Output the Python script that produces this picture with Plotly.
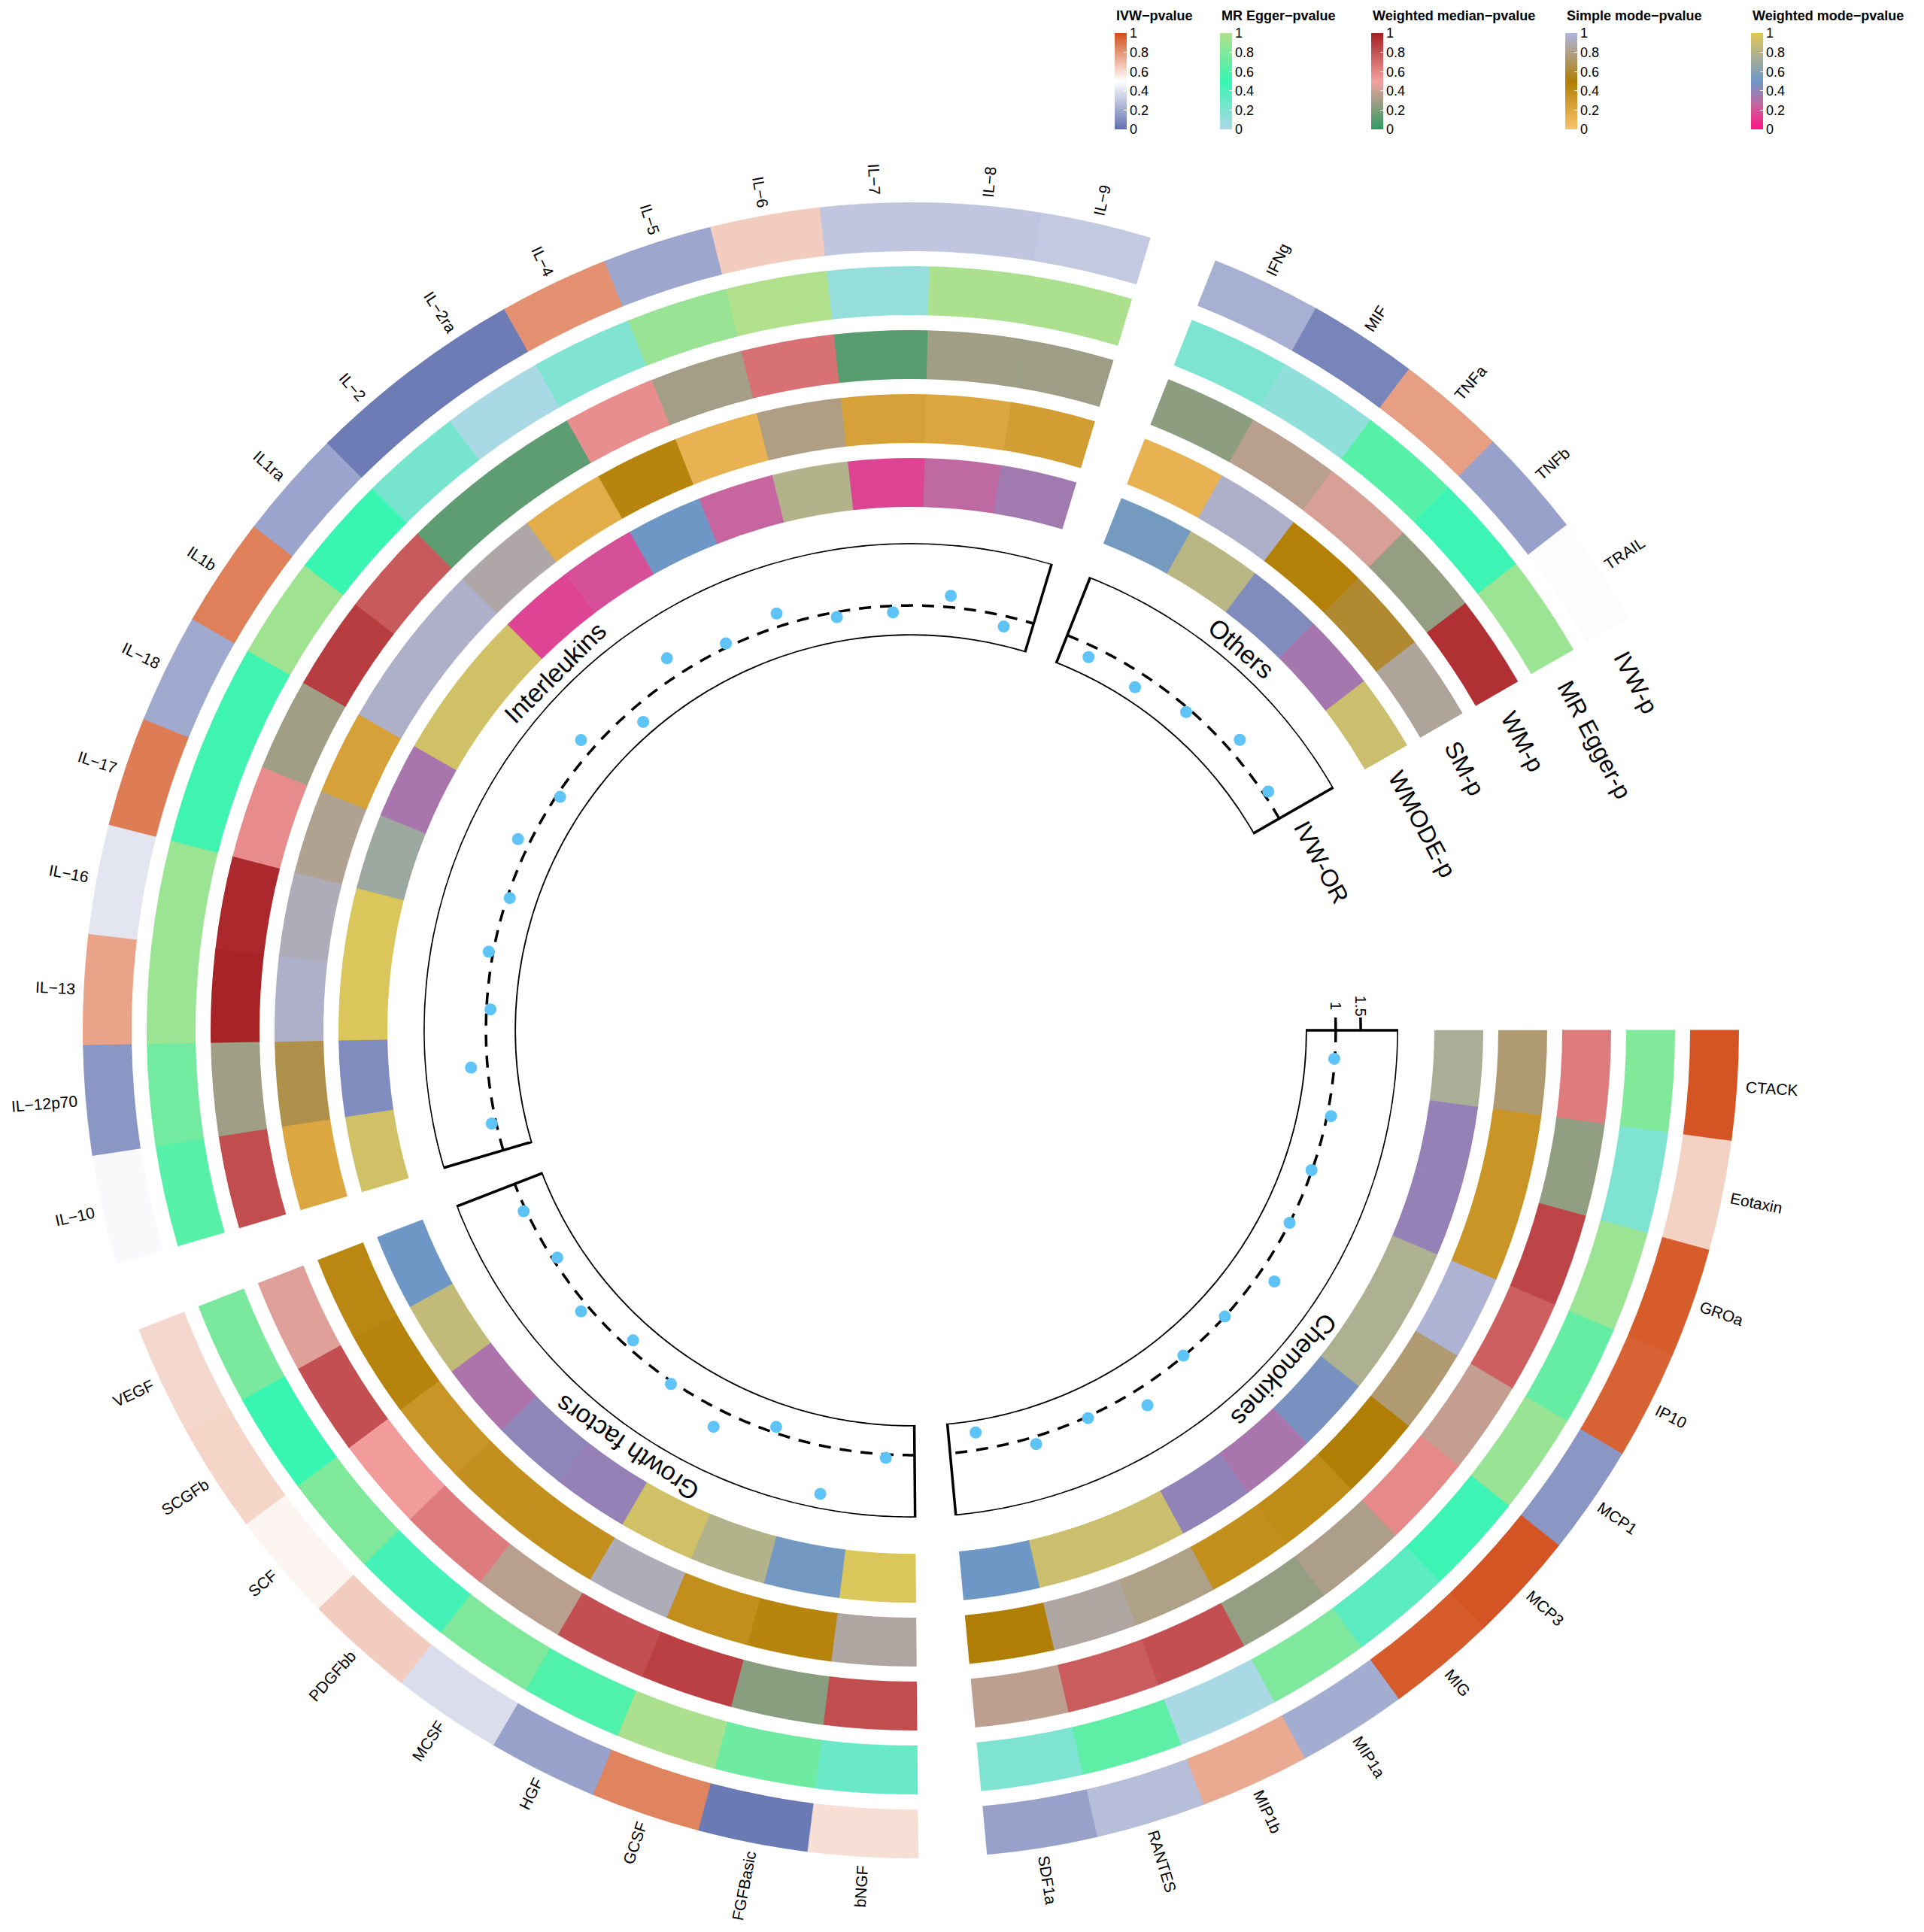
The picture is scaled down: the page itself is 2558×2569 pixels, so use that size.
import math
import numpy as np
import plotly.graph_objects as go

# Dados (ordem horária a partir das 3 horas)
setores = ["Chemokines", "Growth factors", "Interleukins", "Others"]

chemokines = ["CTACK", "Eotaxin", "GROa", "IP10", "MCP1", "MCP3", "MIG",
              "MIP1a", "MIP1b", "RANTES", "SDF1a"]
growth_factors = ["bNGF", "FGFBasic", "GCSF", "HGF", "MCSF", "PDGFbb",
                  "SCF", "SCGFb", "VEGF"]
interleukins = ["IL−10", "IL−12p70", "IL−13", "IL−16", "IL−17", "IL−18",
                "IL1b", "IL1ra", "IL−2", "IL−2ra", "IL−4", "IL−5", "IL−6",
                "IL−7", "IL−8", "IL−9"]
others = ["IFNg", "MIF", "TNFa", "TNFb", "TRAIL"]

# p-valores de cada método (mesma ordem: chemokines, growth, interleukins, others)
ivw_p = [0.98, 0.63, 0.96, 0.94, 0.13, 0.98, 0.96, 0.21, 0.74, 0.27, 0.17,
         0.59, 0.03, 0.85, 0.17, 0.38, 0.64, 0.53, 0.62, 0.61,
         0.48, 0.13, 0.76, 0.41, 0.87, 0.20, 0.86, 0.18, 0.04, 0.04, 0.81,
         0.19, 0.64, 0.30, 0.30, 0.31,
         0.22, 0.07, 0.77, 0.17, 0.49]
egger_p = [0.81, 0.20, 0.91, 0.69, 0.90, 0.48, 0.35, 0.79, 0.02, 0.66, 0.20,
           0.29, 0.73, 0.98, 0.60, 0.80, 0.45, 0.80, 0.50, 0.78,
           0.63, 0.74, 0.91, 0.91, 0.53, 0.53, 0.93, 0.50, 0.23, 0.02, 0.19,
           0.90, 1.00, 0.10, 0.98, 0.98,
           0.21, 0.12, 0.63, 0.48, 0.91]
wm_p = [0.64, 0.25, 0.85, 0.75, 0.38, 0.59, 0.32, 0.26, 0.81, 0.76, 0.36,
        0.82, 0.23, 0.87, 0.81, 0.35, 0.64, 0.52, 0.81, 0.45,
        0.82, 0.29, 0.98, 0.96, 0.58, 0.29, 0.88, 0.77, 0.12, 0.12, 0.57,
        0.30, 0.68, 0.10, 0.29, 0.28,
        0.24, 0.35, 0.43, 0.26, 0.93]
sm_p = [0.75, 0.33, 0.33, 0.97, 0.75, 0.50, 0.40, 0.38, 0.80, 0.86, 0.50,
        0.86, 0.45, 0.38, 0.91, 0.38, 0.37, 0.33, 0.46, 0.43,
        0.20, 0.66, 0.95, 0.91, 0.82, 0.24, 0.95, 0.95, 0.87, 0.16, 0.45,
        0.12, 0.79, 0.24, 0.20, 0.27,
        0.12, 0.95, 0.48, 0.60, 0.84]
wmode_p = [0.75, 0.39, 0.39, 0.77, 0.77, 0.47, 0.335, 0.40, 0.90, 0.90, 0.50,
           0.97, 0.52, 0.79, 0.925, 0.39, 0.41, 0.32, 0.86, 0.50,
           0.93, 0.445, 0.97, 0.97, 0.70, 0.335, 0.93, 0.93, 0.15, 0.185, 0.50,
           0.25, 0.79, 0.15, 0.27, 0.355,
           0.53, 0.82, 0.445, 0.34, 0.90]
# odds ratio do IVW (trilha de pontos)
ivw_or = [0.99, 1.08, 0.99, 1.00, 1.34, 1.00, 0.99, 1.37, 1.03, 1.15, 0.65,
          1.07, 1.95, 0.88, 1.36, 1.05, 0.83, 1.17, 0.91, 1.05,
          1.09, 1.33, 0.92, 1.09, 0.95, 1.24, 0.93, 1.29, 0.67, 1.40, 1.08,
          1.26, 0.90, 0.87, 1.23, 0.79,
          0.77, 0.70, 0.92, 1.28, 1.10]
eixo_or = [1, 1.5]
ticks_leg = [0, 0.2, 0.4, 0.6, 0.8, 1]

nomes_trilha = ["IVW-p", "MR Egger-p", "WM-p", "SM-p", "WMODE-p", "IVW-OR"]
titulos = ["IVW−pvalue", "MR Egger−pvalue", "Weighted median−pvalue",
           "Simple mode−pvalue", "Weighted mode−pvalue"]

# Escalas de cor de cada método
esc_ivw = [[0, "#6171AF"], [0.5, "#FFFFFF"], [1, "#D24E1A"]]
esc_egger = [[0, "#ADD8E6"], [0.5, "#38F5B2"], [1, "#B0E08C"]]
esc_wm = [[0, "#2E9B62"], [0.5, "#F4A0A0"], [1, "#A51E22"]]
esc_sm = [[0, "#FAC26A"], [0.5, "#B07E04"], [1, "#AEB6E0"]]
esc_wmode = [[0, "#FF1583"], [0.25, "#C665A0"], [0.5, "#6E97C6"],
             [0.75, "#A9AE96"], [1, "#E1C953"]]

# Geometria
W, H = 2540, 2550
CX, CY = 1203, 1362
CELL, GAP = 7.7, 4.8
R_IN = [1036, 951, 866, 781, 696]
ESP = 65
BOX_IN, BOX_OUT = 525, 648
OR_MIN, OR_MAX = 0.4, 2.25
R1 = 1185
R_ROT = 1112
FONTE = "Liberation Sans, Arial, sans-serif"

grupos = [chemokines, growth_factors, interleukins, others]
itens = [n for g in grupos for n in g]
theta, limites = [], []
a = 0.0
for g in grupos:
    limites.append((a, a + len(g) * CELL))
    theta += [a + CELL * (i + 0.5) for i in range(len(g))]
    a += len(g) * CELL + GAP

# larguras aproximadas dos caracteres (Arial, em)
larg = {'A': .667, 'B': .667, 'C': .722, 'D': .722, 'E': .667, 'F': .611, 'G': .778,
        'H': .722, 'I': .278, 'K': .667, 'L': .556, 'M': .833, 'N': .722, 'O': .778,
        'P': .667, 'R': .722, 'S': .667, 'T': .611, 'V': .667, 'W': .944, 'X': .667,
        'a': .556, 'b': .556, 'c': .5, 'e': .556, 'f': .278, 'g': .556, 'h': .556,
        'i': .222, 'k': .5, 'l': .222, 'm': .833, 'n': .556, 'o': .556, 'p': .556,
        'r': .333, 's': .5, 't': .278, 'u': .556, 'v': .5, 'w': .722, 'x': .5,
        ' ': .278, '-': .333, '−': .584, '.': .278}


def largura(txt, size):
    return sum(larg.get(c, .556) for c in txt) * size


def ponto(r, ang):
    t = math.radians(ang)
    return CX + r * math.cos(t), CY + r * math.sin(t)


def norm(ang):
    return (ang + 180) % 360 - 180


def r_or(v):
    return BOX_IN + (v - OR_MIN) / (OR_MAX - OR_MIN) * (BOX_OUT - BOX_IN)


anots = []


def rotulo(txt, xc, yc, ang, size, xanchor="center"):
    anots.append(dict(text=txt, x=xc / W, y=1 - yc / H, xref="paper", yref="paper",
                      showarrow=False, textangle=norm(ang), xanchor=xanchor,
                      yanchor="middle", font=dict(size=size, color="black", family=FONTE)))


fig = go.Figure()

# Anéis de calor + legendas (barras de cor)
trilhas = [(ivw_p, esc_ivw, 1474), (egger_p, esc_egger, 1614), (wm_p, esc_wm, 1815),
           (sm_p, esc_sm, 2073), (wmode_p, esc_wmode, 2320)]
for i, (vals, esc, xl) in enumerate(trilhas):
    fig.add_trace(go.Barpolar(
        r=[ESP] * len(itens), base=[R_IN[i]] * len(itens), theta=theta,
        width=[CELL + 0.05] * len(itens),
        marker=dict(color=vals, colorscale=esc, cmin=0, cmax=1, line_width=0,
                    showscale=True,
                    colorbar=dict(x=xl / W, xanchor="left", y=1 - 36 / H, yanchor="top",
                                  len=128, lenmode="pixels", thickness=16,
                                  thicknessmode="pixels", xpad=0, ypad=0,
                                  outlinewidth=0, tickvals=ticks_leg,
                                  ticks="inside", ticklen=4, tickcolor="white",
                                  tickfont=dict(size=18, family=FONTE))),
        hoverinfo="skip", subplot="polar"))
    anots.append(dict(text="<b>" + titulos[i] + "</b>", x=xl / W, y=1 - 13 / H,
                      xref="paper", yref="paper", showarrow=False, xanchor="left",
                      yanchor="middle", font=dict(size=18, color="black", family=FONTE)))

# Trilha interna: caixa, linha OR = 1 e pontos
for a0, a1 in limites:
    arco = np.linspace(a0, a1, 200)
    fig.add_trace(go.Scatterpolar(
        r=np.r_[[OR_MAX] * 200, [OR_MIN] * 200, OR_MAX], theta=np.r_[arco, arco[::-1], a0],
        mode="lines", line=dict(color="black", width=3.5), cliponaxis=False,
        hoverinfo="skip", subplot="polar2"))
    fig.add_trace(go.Scatterpolar(
        r=[1] * 200, theta=arco, mode="lines",
        line=dict(color="black", width=3.5, dash="16px,12px"), cliponaxis=False,
        hoverinfo="skip", subplot="polar2"))

fig.add_trace(go.Scatterpolar(r=ivw_or, theta=theta, mode="markers",
                              marker=dict(size=16, color="#5EC4F8"), cliponaxis=False,
                              hoverinfo="skip", subplot="polar2"))

# eixo do OR no início de Chemokines
for v in eixo_or:
    d = math.degrees(17 / r_or(v))
    fig.add_trace(go.Scatterpolar(r=[v, v], theta=[0, -d], mode="lines",
                                  line=dict(color="black", width=3.5), cliponaxis=False,
                                  hoverinfo="skip", subplot="polar2"))
    xc, yc = ponto(r_or(v), 0)
    rotulo(f"{v:g}", xc, yc - 32, 90, 20)

# Nomes dos itens
for nome, t in zip(itens, theta):
    L = largura(nome, 21)
    xc, yc = ponto(R_ROT + L / 2, t)
    ang = t if (t < 90 or t >= 270) else t - 180
    rotulo(nome, xc, yc, ang, 21)

# Nomes das trilhas
T0 = 332
for i, nome in enumerate(nomes_trilha):
    rm = R_IN[i] + ESP / 2 if i < 5 else (BOX_IN + BOX_OUT) / 2
    L = largura(nome, 32)
    x0, y0 = ponto(rm, T0)
    t = math.radians(T0)
    rotulo(nome, x0 - math.sin(t) * L / 2, y0 + math.cos(t) * L / 2, T0 + 90, 32)

# Nomes dos setores
for s, (a0, a1) in zip(setores, limites):
    tm = (a0 + a1) / 2
    xc, yc = ponto(671, tm)
    rotulo(s, xc, yc, tm + 90, 34)

eixo_ang = dict(visible=False, direction="clockwise", rotation=0)
fig.update_layout(
    width=W, height=H, margin=dict(l=0, r=0, t=0, b=0),
    paper_bgcolor="white", plot_bgcolor="white", showlegend=False,
    font=dict(family=FONTE, color="black"),
    polar=dict(domain=dict(x=[(CX - R1) / W, (CX + R1) / W],
                           y=[1 - (CY + R1) / H, 1 - (CY - R1) / H]),
               radialaxis=dict(range=[0, R1], visible=False),
               angularaxis=eixo_ang, bgcolor="rgba(0,0,0,0)"),
    polar2=dict(domain=dict(x=[(CX - BOX_OUT) / W, (CX + BOX_OUT) / W],
                            y=[1 - (CY + BOX_OUT) / H, 1 - (CY - BOX_OUT) / H]),
                hole=BOX_IN / BOX_OUT,
                radialaxis=dict(range=[OR_MIN, OR_MAX], visible=False),
                angularaxis=eixo_ang, bgcolor="rgba(0,0,0,0)"),
    annotations=anots)

fig.write_html("out.html")
